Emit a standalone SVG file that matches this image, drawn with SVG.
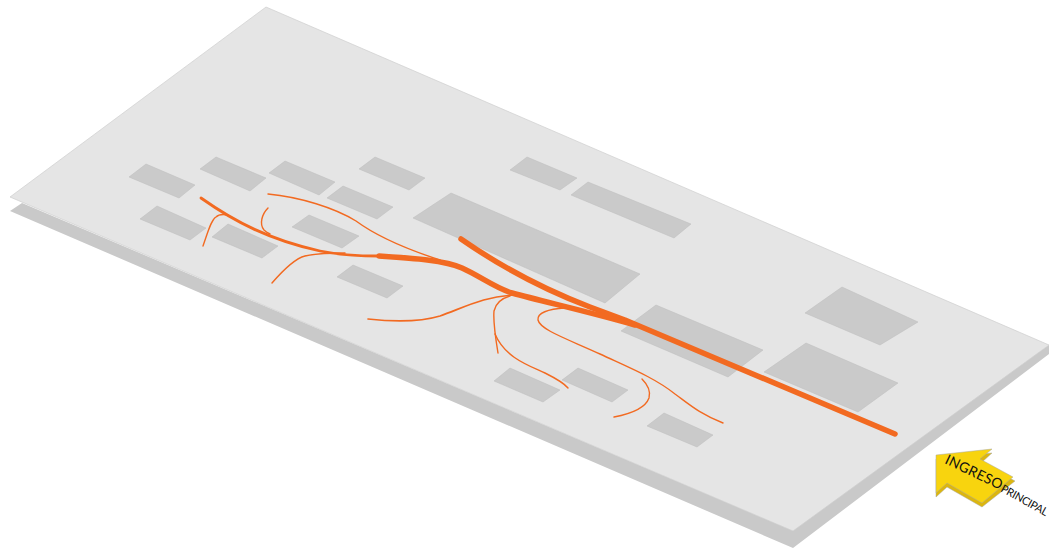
<svg xmlns="http://www.w3.org/2000/svg" width="1051" height="550" viewBox="0 0 1051 550">
<style>
.b{fill:#cacaca;stroke:#bdbdbd;stroke-width:.5}
.o{fill:none;stroke:#f26a21;stroke-linecap:round;stroke-linejoin:round}
.t{font-family:"Lato","Liberation Sans",sans-serif;font-weight:400;fill:#111}
</style>
<rect width="1051" height="550" fill="#fff"/>
<g id="base">
<polygon points="10,211 22,203 780,525 1049,345 1049,354 793,548" fill="#c9c9c9"/>
<polygon points="266,7 1049,345 793,531 10,197" fill="#e5e5e5" stroke="#cfcfcf" stroke-width=".7"/>
</g>
<g id="buildings">
<polygon class="b" points="129,177 146,164 195,185 179,198"/>
<polygon class="b" points="200,169 216,157 266,178 250,191"/>
<polygon class="b" points="269,173 285,161 335,182 319,195"/>
<polygon class="b" points="359,169 375,157 425,178 409,190"/>
<polygon class="b" points="327,198 343,186 393,207 377,219"/>
<polygon class="b" points="140,219 157,206 206,228 190,240"/>
<polygon class="b" points="212,237 228,224 278,246 262,258"/>
<polygon class="b" points="292,227 309,215 359,236 342,248"/>
<polygon class="b" points="337,277 353,265 403,286 387,298"/>
<polygon class="b" points="413,218 451,193 640,274 605,303"/>
<polygon class="b" points="510,170 527,157 577,178 560,190"/>
<polygon class="b" points="571,195 588,182 691,224 674,238"/>
<polygon class="b" points="621,331 656,305 763,350 728,377"/>
<polygon class="b" points="764,372 806,343 898,383 858,412"/>
<polygon class="b" points="805,313 842,287 918,322 880,345"/>
<polygon class="b" points="494,381 510,368 560,390 543,402"/>
<polygon class="b" points="562,380 578,368 628,390 612,402"/>
<polygon class="b" points="647,426 664,413 713,435 697,447"/>
</g>
<g id="connectors">
<path class="o" stroke-width="5.5" d="M461,239C500,266 545,290 590,307L625,320L895,434"/>
<path class="o" stroke-width="5.5" d="M379,256C410,258 445,260 462,268C480,276 495,288 512,293C545,302 590,312 635,325"/>
<path class="o" stroke-width="2.8" d="M201,198C235,222 270,240 320,251C340,255 360,256 379,256"/>
<path class="o" stroke-width="1.4" d="M203,246C208,232 211,220 216,217C219,214 223,214 228,215"/>
<path class="o" stroke-width="1.4" d="M268,208C262,214 259,224 264,230C266,232 268,233 270,234"/>
<path class="o" stroke-width="1.4" d="M268,194C300,197 335,208 356,221C375,235 400,247 440,260"/>
<path class="o" stroke-width="1.4" d="M272,283C285,268 297,258 305,256C318,253 330,253 345,253"/>
<path class="o" stroke-width="1.7" d="M368,319C395,322 420,322 440,316C465,307 485,296 515,295"/>
<path class="o" stroke-width="1.4" d="M498,353C495,335 493,322 494,311C496,302 503,298 510,296"/>
<path class="o" stroke-width="1.4" d="M495,334C505,358 530,366 545,373C555,378 564,383 568,388"/>
<path class="o" stroke-width="1.4" d="M565,308C548,309 537,313 538,320C540,330 570,340 600,354C630,368 655,378 675,394C690,405 700,414 723,423"/>
<path class="o" stroke-width="1.4" d="M642,379C648,385 651,391 649,398C645,409 630,414 614,417"/>
</g>
<g id="arrow">
<polygon points="936,459 992,453 981,463 1015,481 982,507 947,487 936,497" fill="#dcb60e" stroke="#a8a8a0" stroke-width=".5"/>
<polygon points="936,455 992,449 980,459 1013,477 982,503 947,483 936,493" fill="#f8d40e" stroke="#a8a8a0" stroke-width=".5"/>
<text class="t" style="font-size:14px" transform="translate(944,463) rotate(25.6)" textLength="62">INGRESO</text>
<text class="t" style="font-size:11px" transform="translate(1000,491) rotate(29)" textLength="52">PRINCIPAL</text>
</g>
</svg>
